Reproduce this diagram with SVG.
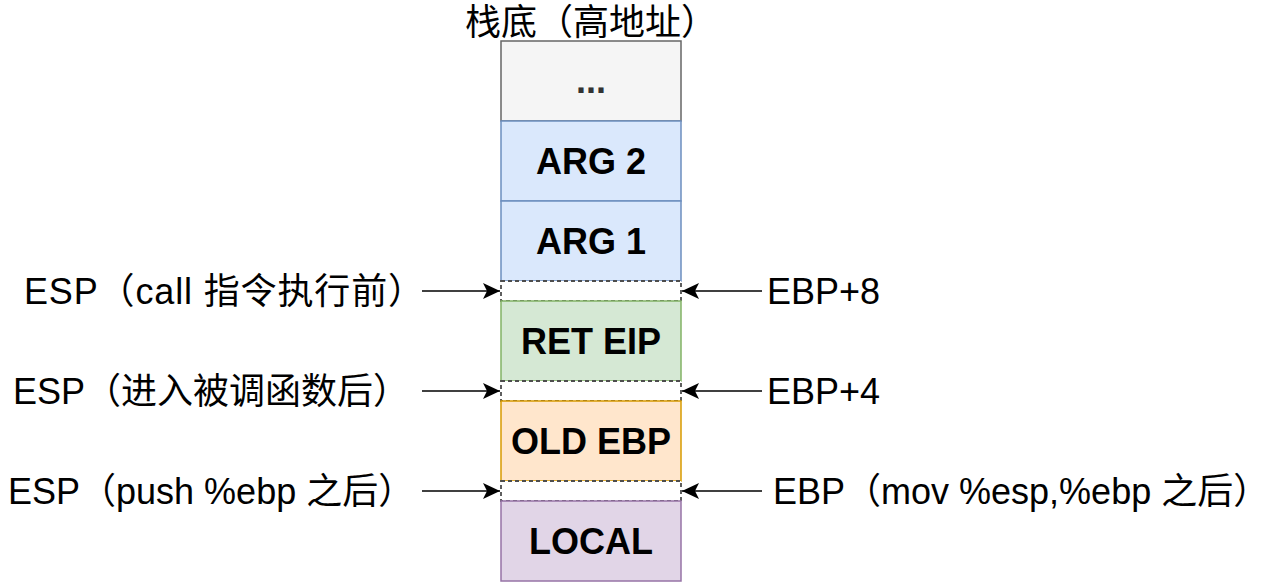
<svg xmlns="http://www.w3.org/2000/svg" width="1282" height="584" viewBox="0 0 1282 584">
<style>
.t{font-family:"Liberation Sans","Noto Sans CJK SC",Arial,sans-serif;font-size:36px;fill:#000}
.b{font-family:"Liberation Sans","Noto Sans CJK SC",Arial,sans-serif;font-size:36px;font-weight:bold;fill:#000;text-anchor:middle}
.box{stroke-width:1.5}
.gap{fill:#ffffff;stroke:#4d4d4d;stroke-width:1.8;stroke-dasharray:4 3}
.c{stroke:#000;stroke-width:1.5;fill:none;marker-end:url(#arr)}
</style>
<defs>
<marker id="arr" markerUnits="userSpaceOnUse" markerWidth="20" markerHeight="20" refX="17" refY="8" orient="auto">
<path d="M0,0 L17,8 L0,16 L4,8 Z" fill="#000"/>
</marker>
</defs>
<rect width="1282" height="584" fill="#ffffff"/>
<text class="t" x="591" y="35" text-anchor="middle">栈底（高地址）</text>
<g id="n-dots"><rect class="box" x="501" y="41" width="180" height="80" fill="#f5f5f5" stroke="#666666"/><text class="b" x="591" y="93" style="fill:#333333">...</text></g>
<g id="n-arg2"><rect class="box" x="501" y="121" width="180" height="80" fill="#dae8fc" stroke="#6c8ebf"/><text class="b" x="591" y="174">ARG 2</text></g>
<g id="n-arg1"><rect class="box" x="501" y="201" width="180" height="80" fill="#dae8fc" stroke="#6c8ebf"/><text class="b" x="591" y="254">ARG 1</text></g>
<g id="n-gap1"><rect class="gap" x="501" y="281" width="180" height="20"/></g>
<g id="n-ret"><rect class="box" x="501" y="301" width="180" height="80" fill="#d5e8d4" stroke="#82b366"/><text class="b" x="591" y="354">RET EIP</text></g>
<g id="n-gap2"><rect class="gap" x="501" y="381" width="180" height="20"/></g>
<g id="n-old"><rect class="box" x="501" y="401" width="180" height="80" fill="#ffe6cc" stroke="#d79b00"/><text class="b" x="591" y="454">OLD EBP</text></g>
<g id="n-gap3"><rect class="gap" x="501" y="481" width="180" height="20"/></g>
<g id="n-local"><rect class="box" x="501" y="501" width="180" height="80" fill="#e1d5e7" stroke="#9673a6"/><text class="b" x="591" y="554">LOCAL</text></g>
<g id="l-esp1"><text class="t" x="24" y="304" textLength="400" lengthAdjust="spacing">ESP（call 指令执行前）</text></g>
<g id="l-esp2"><text class="t" x="13" y="404">ESP（进入被调函数后）</text></g>
<g id="l-esp3"><text class="t" x="8" y="504">ESP（push %ebp 之后）</text></g>
<g id="l-ebp8"><text class="t" x="767" y="304">EBP+8</text></g>
<g id="l-ebp4"><text class="t" x="767" y="404">EBP+4</text></g>
<g id="l-ebp"><text class="t" x="773" y="504">EBP（mov %esp,%ebp 之后）</text></g>
<g id="connectors">
<path class="c" d="M422,291 L500,291"/>
<path class="c" d="M422,391 L500,391"/>
<path class="c" d="M422,491 L500,491"/>
<path class="c" d="M762,291 L682,291"/>
<path class="c" d="M762,391 L682,391"/>
<path class="c" d="M762,491 L682,491"/>
</g>
</svg>
